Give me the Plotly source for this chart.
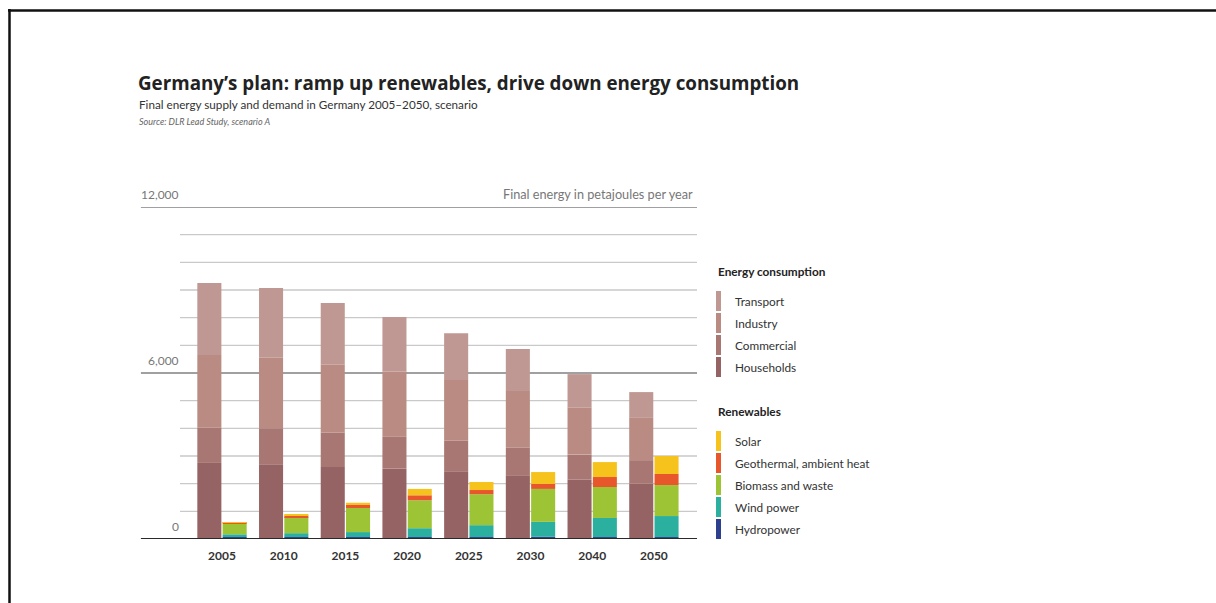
import plotly.graph_objects as go
import numpy as np

# ---------------------------------------------------------------- data (PJ)
YEARS = ["2005", "2010", "2015", "2020", "2025", "2030", "2040", "2050"]

# final energy consumption by sector
HOUSEHOLDS = [2750, 2700, 2600, 2550, 2450, 2300, 2150, 2000]
COMMERCIAL = [1270, 1300, 1250, 1150, 1100, 1000, 900, 850]
INDUSTRY = [2630, 2550, 2450, 2350, 2200, 2050, 1700, 1550]
TRANSPORT = [2600, 2520, 2230, 1970, 1690, 1520, 1210, 910]

# renewable supply by source
HYDRO = [70, 70, 70, 70, 70, 80, 70, 70]
WIND = [100, 140, 180, 320, 430, 540, 690, 760]
BIOMASS = [380, 580, 870, 1010, 1120, 1190, 1120, 1120]
GEOTHERMAL = [40, 60, 110, 180, 150, 180, 360, 400]
SOLAR = [20, 50, 80, 230, 290, 430, 540, 650]

Y_TICKS = [0, 6000, 12000]
Y_TICK_LABELS = ["0", "6,000", "12,000"]

# ---------------------------------------------------------------- styling
W, H = 1216, 603
PL, PR, PT, PB = 137, 697, 207, 539          # plot box in pixels
Y_MAX = 12000
UNIT = 61.7                                  # pixels per category
X0 = 222                                     # pixel centre of first category

FONT = "Lato"
CONS = [("Transport", TRANSPORT, "#bf9893"),
        ("Industry", INDUSTRY, "#b98b82"),
        ("Commercial", COMMERCIAL, "#a87773"),
        ("Households", HOUSEHOLDS, "#966364")]
RENEW = [("Solar", SOLAR, "#f6c21c"),
         ("Geothermal, ambient heat", GEOTHERMAL, "#e8572b"),
         ("Biomass and waste", BIOMASS, "#9dc434"),
         ("Wind power", WIND, "#2bb0a0"),
         ("Hydropower", HYDRO, "#2e3f8e")]


def px_x(p):
    return (p - PL) / (PR - PL)


def px_y(p):
    return (PB - p) / (PB - PT)


fig = go.Figure()


def add_stack(series, offset):
    base = np.zeros(len(YEARS))
    for name, vals, color in reversed(series):
        fig.add_trace(go.Bar(
            x=YEARS, y=vals, base=base.copy(), name=name,
            marker=dict(color=color, line=dict(width=0)),
            offset=offset, width=0.39, showlegend=False,
            hovertemplate=name + " %{x}: %{y:,} PJ<extra></extra>"))
        base += np.array(vals)


add_stack(CONS, -0.40)
add_stack(RENEW, 0.01)

shapes = []
# light gridlines every 1,000 PJ
for v in range(1000, Y_MAX, 1000):
    if v in Y_TICKS:
        continue
    shapes.append(dict(type="line", xref="paper", yref="y",
                       x0=px_x(180), x1=1, y0=v, y1=v,
                       line=dict(color="#c9c9c9", width=1.3), layer="below"))
# labelled lines
for v in Y_TICKS:
    col, wd = ("#2a2a2a", 2) if v == 0 else ("#808080", 1.7)
    shapes.append(dict(type="line", xref="paper", yref="y",
                       x0=0.007, x1=1, y0=v, y1=v,
                       line=dict(color=col, width=wd),
                       layer="above" if v == 0 else "below"))

annotations = []
for v, lab in zip(Y_TICKS, Y_TICK_LABELS):
    annotations.append(dict(text=lab, xref="paper", yref="y",
                            x=px_x(181), y=v, xanchor="right", yanchor="bottom",
                            yshift=3, showarrow=False,
                            font=dict(family=FONT, size=12, color="#777777")))
annotations.append(dict(text="Final energy in petajoules per year",
                        xref="paper", yref="y", x=px_x(695), y=Y_MAX,
                        xanchor="right", yanchor="bottom", yshift=3,
                        showarrow=False,
                        font=dict(family=FONT, size=12.7, color="#777777")))

# headline block
annotations += [
    dict(text="<b>Germany’s plan: ramp up renewables, drive down energy consumption</b>",
         xref="paper", yref="paper", x=px_x(136), y=px_y(83),
         xanchor="left", yanchor="middle", showarrow=False,
         font=dict(family="Open Sans", size=18.8, color="#222222")),
    dict(text="Final energy supply and demand in Germany 2005–2050, scenario",
         xref="paper", yref="paper", x=px_x(137), y=px_y(104),
         xanchor="left", yanchor="middle", showarrow=False,
         font=dict(family=FONT, size=11.7, color="#333333")),
    dict(text="<i>Source: DLR Lead Study, scenario A</i>",
         xref="paper", yref="paper", x=px_x(137), y=px_y(121),
         xanchor="left", yanchor="middle", showarrow=False,
         font=dict(family=FONT, size=9, color="#666666")),
]

# legend drawn as narrow colour strips next to the plot
LX, TX = 716, 733


def legend_block(title, title_y, items, first_y):
    annotations.append(dict(text="<b>" + title + "</b>", xref="paper", yref="paper",
                            x=px_x(LX), y=px_y(title_y), xanchor="left",
                            yanchor="middle", showarrow=False,
                            font=dict(family=FONT, size=11.8, color="#222222")))
    for i, (name, _, color) in enumerate(items):
        cy = first_y + 22 * i
        shapes.append(dict(type="rect", xref="paper", yref="paper",
                           x0=px_x(LX), x1=px_x(LX + 5),
                           y0=px_y(cy - 10), y1=px_y(cy + 10),
                           fillcolor=color, line=dict(width=0)))
        annotations.append(dict(text=name, xref="paper", yref="paper",
                                x=px_x(TX), y=px_y(cy), xanchor="left",
                                yanchor="middle", showarrow=False,
                                font=dict(family=FONT, size=11.8, color="#333333")))


legend_block("Energy consumption", 271, CONS, 301)
legend_block("Renewables", 411, RENEW, 441)

# page frame (top and left edges)
shapes.append(dict(type="line", xref="paper", yref="paper",
                   x0=px_x(8), x1=px_x(W), y0=px_y(10.5), y1=px_y(10.5),
                   line=dict(color="#111111", width=2.5)))
shapes.append(dict(type="line", xref="paper", yref="paper",
                   x0=px_x(9.5), x1=px_x(9.5), y0=px_y(9), y1=px_y(W),
                   line=dict(color="#111111", width=2.5)))

fig.update_layout(
    width=W, height=H, barmode="overlay",
    margin=dict(l=PL, r=W - PR, t=PT, b=H - PB, pad=0),
    paper_bgcolor="white", plot_bgcolor="rgba(0,0,0,0)",
    showlegend=False, shapes=shapes, annotations=annotations,
    xaxis=dict(type="category", categoryorder="array", categoryarray=YEARS,
               range=[-(X0 - PL) / UNIT, (PR - X0) / UNIT],
               showgrid=False, zeroline=False, showline=False,
               ticks="outside", ticklen=6, tickcolor="rgba(0,0,0,0)",
               tickfont=dict(family=FONT, size=12, color="#333333"),
               tickprefix="<b>", ticksuffix="</b>"),
    yaxis=dict(range=[0, Y_MAX], showgrid=False, zeroline=False,
               showline=False, showticklabels=False, fixedrange=True),
)

fig.write_html("out.html")
